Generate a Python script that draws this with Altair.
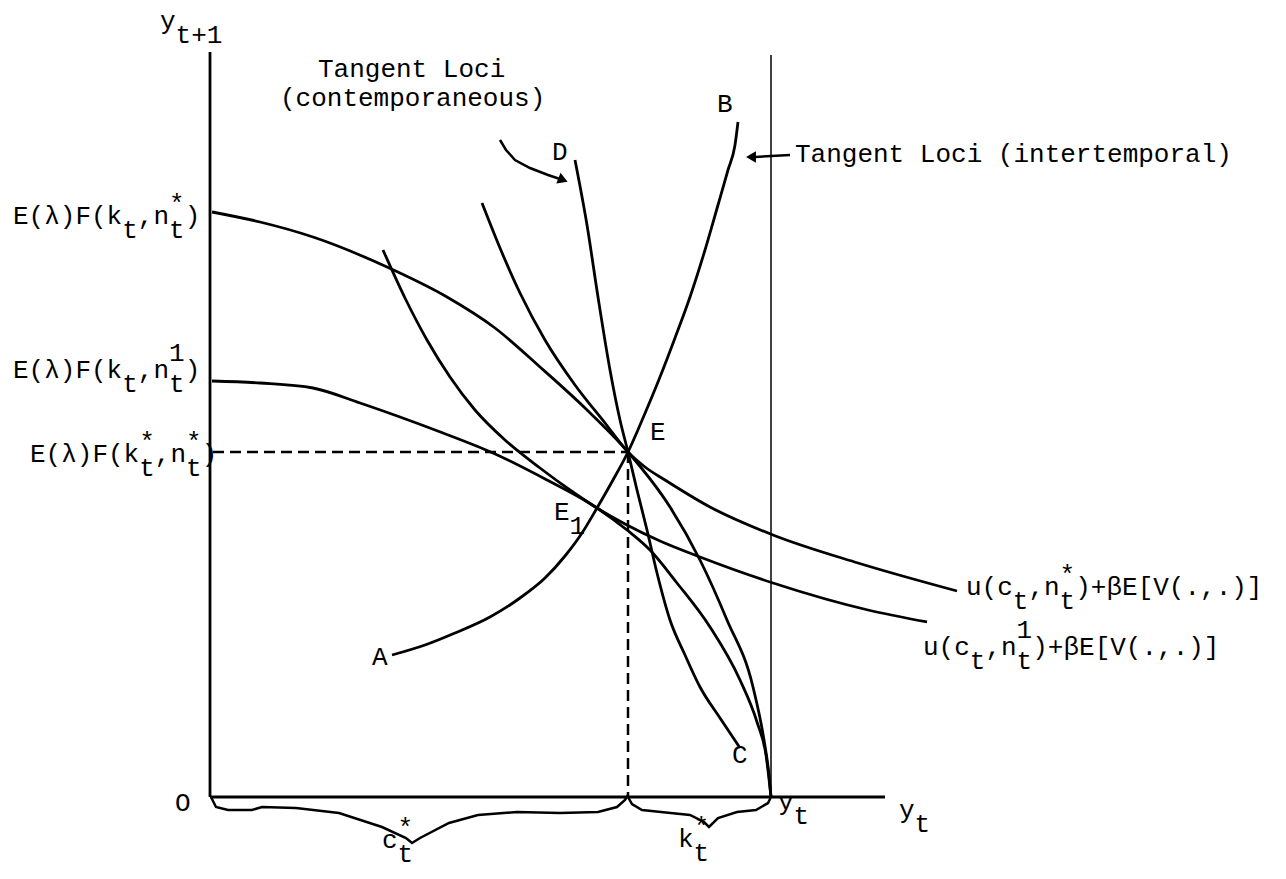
import altair as alt
import pandas as pd

# Units: x to the right of origin O, y above origin O (y_t sits at x = 561)
# Production frontier with n*  (starts at E(λ)F(k_t,n_t*) on the y axis)
frontier_star_x = [2, 50, 103, 177, 237, 285, 330, 375, 418, 460, 490, 517, 543, 554, 559, 561]
frontier_star_y = [585, 575, 560, 530, 500, 469, 430, 389, 345, 290, 237, 177, 110, 57, 22, 0]
# Production frontier with n^1
frontier_one_x = [2, 50, 103, 150, 190, 233, 283, 337, 387, 417, 440, 467, 500, 530, 547, 556, 561]
frontier_one_y = [416, 414, 409, 394, 380, 364, 344, 317, 289, 267, 247, 214, 170, 117, 75, 42, 0]
# Indifference curve u(c_t, n_t*) + bE[V]
indiff_star_x = [272, 290, 310, 335, 365, 395, 418, 435, 455, 500, 563, 648, 747]
indiff_star_y = [594, 549, 504, 457, 412, 374, 345, 330, 317, 290, 262, 234, 206]
# Indifference curve u(c_t, n_t^1) + bE[V]
indiff_one_x = [173, 195, 217, 240, 265, 295, 330, 360, 387, 415, 450, 490, 563, 658, 717]
indiff_one_y = [547, 499, 457, 420, 387, 357, 329, 307, 289, 273, 256, 240, 214, 187, 175]
# Tangent loci (intertemporal) A-B
locus_ab_x = [182, 215, 245, 280, 310, 335, 355, 372, 387, 403, 418, 433, 450, 465, 480, 495, 508, 518, 525, 528]
locus_ab_y = [142, 152, 164, 180, 199, 219, 241, 264, 289, 317, 345, 379, 420, 459, 500, 547, 592, 627, 652, 675]
# Tangent loci (contemporaneous) D-C
locus_dc_x = [365, 377, 388, 400, 410, 418, 427, 437, 447, 460, 475, 490, 510, 530]
locus_dc_y = [637, 572, 500, 427, 377, 345, 307, 267, 224, 177, 142, 110, 79, 49]

# Braces under the x axis
brace_c_x = [1, 6, 18, 42, 52, 86, 129, 172, 196, 202, 210, 239, 268, 307, 350, 388, 407, 415, 418]
brace_c_y = [0, -10, -13, -13, -10, -11, -16, -30, -41, -46, -41, -26, -18, -15, -16, -15, -10, -3, 2]
brace_k_x = [418, 422, 432, 451, 480, 494, 499, 508, 527, 546, 558, 561]
brace_k_y = [0, -7, -13, -15, -18, -25, -30, -21, -15, -13, -6, 0]

# Arrows
arrow_dc_x = [290, 296, 305, 320, 338, 353]
arrow_dc_y = [657, 647, 637, 629, 622, 617]
arrow_ab_x = [545, 580]
arrow_ab_y = [640, 642]
head_x = [353, 541]
head_y = [617, 640]
head_angle = [22, 180]

# Equilibrium point E
E_x, E_y = 418, 345
Y_T = 561

rows = []
def add(name, xs, ys):
    for i, (a, b) in enumerate(zip(xs, ys)):
        rows.append({"curve": name, "x": a, "y": b, "order": i})

add("F_star", frontier_star_x, frontier_star_y)
add("F_one", frontier_one_x, frontier_one_y)
add("U_star", indiff_star_x, indiff_star_y)
add("U_one", indiff_one_x, indiff_one_y)
add("AB", locus_ab_x, locus_ab_y)
add("DC", locus_dc_x, locus_dc_y)
curves = pd.DataFrame(rows)

rows = []
add("brace_c", brace_c_x, brace_c_y)
add("brace_k", brace_k_x, brace_k_y)
add("arrow_dc", arrow_dc_x, arrow_dc_y)
add("arrow_ab", arrow_ab_x, arrow_ab_y)
decor = pd.DataFrame(rows)

heads = pd.DataFrame({"x": head_x, "y": head_y, "angle": head_angle})

axes = pd.DataFrame({
    "x": [0, 0, Y_T], "x2": [0, 675, Y_T],
    "y": [0, 0, 0], "y2": [745, 0, 742],
    "w": [2.8, 3.0, 1.5],
})
dashes = pd.DataFrame({"x": [3, E_x], "x2": [E_x, E_x], "y": [E_y, E_y], "y2": [E_y, 0]})

# Typewriter labels: anchor (left edge, baseline), main text,
# and sub/superscripts given as (character cell, text, kind)
S = "\u00a0"
FONT_SIZE = 26
CELL = FONT_SIZE * 0.6   # Liberation Mono advance width

label_x = [-50, 108, 70, 342, 507, 585, 440, 344, 162, 522, -35, 568, 689, 172, 468, -197, -197, -180, 756, 713]
label_y = [768, 720, 691, 637, 685, 635, 357, 277, 132, 34, -14, -13, -21, -51, -50, 573, 419, 335, 202, 142]
label_main = [
    "y", "Tangent Loci", "(contemporaneous)", "D", "B", "Tangent Loci (intertemporal)",
    "E", "E", "A", "C", "O", "y", "y", "c", "k",
    "E(λ)F(k" + S + ",n" + S + ")", "E(λ)F(k" + S + ",n" + S + ")", "E(λ)F(k" + S + ",n" + S + ")",
    "u(c" + S + ",n" + S + ")+βE[V(.,.)]", "u(c" + S + ",n" + S + ")+βE[V(.,.)]",
]
label_scripts = [
    [(1, "t+1", "sub")], [], [], [], [], [],
    [], [(1, "1", "sub")], [], [], [], [(1, "t", "sub")], [(1, "t", "sub")],
    [(1, "t", "sub"), (1, "*", "star")], [(1, "t", "sub"), (1, "*", "star")],
    [(7, "t" + S + S + "t", "sub"), (10, "*", "star")],
    [(7, "t" + S + S + "t", "sub"), (10, "1", "one")],
    [(7, "t" + S + S + "t", "sub"), (7, "*" + S + S + "*", "star")],
    [(3, "t" + S + S + "t", "sub"), (6, "*", "star")],
    [(3, "t" + S + S + "t", "sub"), (6, "1", "one")],
]

labels = pd.DataFrame({"x": label_x, "y": label_y, "text": label_main})
srows = []
for lx, ly, scripts in zip(label_x, label_y, label_scripts):
    for cell, txt, kind in scripts:
        srows.append({"x": lx + cell * CELL, "y": ly, "text": txt, "kind": kind})
scripts_df = pd.DataFrame(srows)

X = alt.X("x:Q", scale=alt.Scale(domain=[-202, 1068], nice=False, zero=False), axis=None)
Y = alt.Y("y:Q", scale=alt.Scale(domain=[-73, 789], nice=False, zero=False), axis=None)

axis_layer = alt.Chart(axes).mark_rule(color="black").encode(
    x=X, x2="x2:Q", y=Y, y2="y2:Q", strokeWidth=alt.StrokeWidth("w:Q", scale=None))
dash_layer = alt.Chart(dashes).mark_rule(color="black", strokeWidth=2.5, strokeDash=[11, 6]).encode(
    x=X, x2="x2:Q", y=Y, y2="y2:Q")
curve_layer = alt.Chart(curves).mark_line(color="black", strokeWidth=2.8, interpolate="monotone").encode(
    x=X, y=Y, detail="curve:N", order="order:Q")
decor_layer = alt.Chart(decor).mark_line(color="black", strokeWidth=2.5, interpolate="linear").encode(
    x=X, y=Y, detail="curve:N", order="order:Q")
head_layer = alt.Chart(heads).mark_point(shape="triangle-right", filled=True, color="black", size=130, opacity=1).encode(
    x=X, y=Y, angle=alt.Angle("angle:Q", scale=None))

font = dict(font="Liberation Mono", fontSize=FONT_SIZE, color="black", align="left", baseline="alphabetic")
t_main = alt.Chart(labels).mark_text(**font).encode(x=X, y=Y, text="text:N")
t_sub = alt.Chart(scripts_df).transform_filter(alt.datum.kind == "sub").mark_text(dy=14, **font).encode(
    x=X, y=Y, text="text:N")
t_star = alt.Chart(scripts_df).transform_filter(alt.datum.kind == "star").mark_text(dy=-12, **font).encode(
    x=X, y=Y, text="text:N")
t_one = alt.Chart(scripts_df).transform_filter(alt.datum.kind == "one").mark_text(dy=-17, **font).encode(
    x=X, y=Y, text="text:N")

chart = alt.layer(axis_layer, dash_layer, curve_layer, decor_layer, head_layer,
                  t_main, t_sub, t_star, t_one).properties(
    width=1270, height=862, padding=0, autosize=alt.AutoSizeParams(type="none")
).configure_view(stroke=None)

chart.save("out.html", embed_options={"renderer": "svg", "actions": False})
